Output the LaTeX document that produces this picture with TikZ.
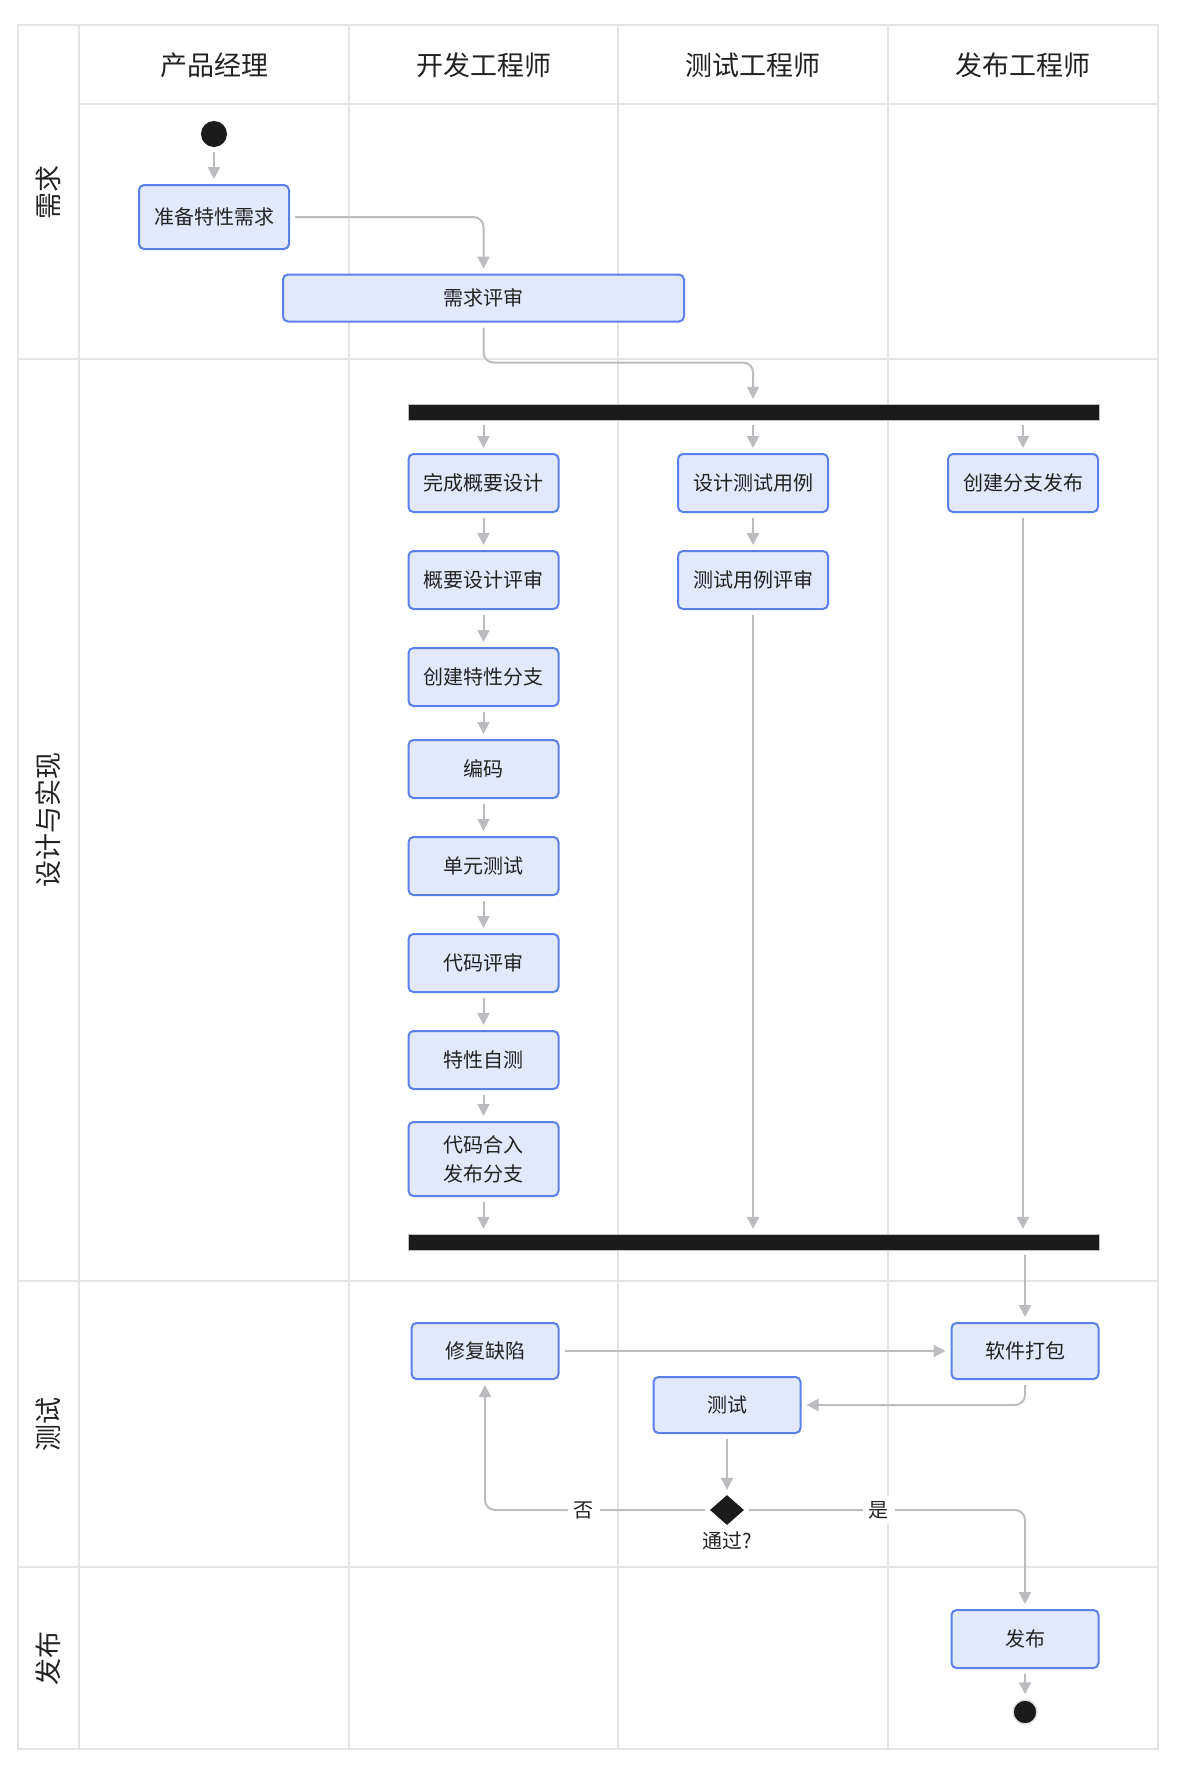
\documentclass[tikz,border=0pt]{standalone}
\usepackage{fontspec}
\setmainfont{Noto Sans CJK SC}
\usetikzlibrary{arrows.meta, positioning, shapes.geometric, calc}
\definecolor{boxfill}{HTML}{E3E9FC}
\definecolor{boxline}{HTML}{5A80EA}
\definecolor{flowgray}{HTML}{BBBCC0}
\definecolor{gridgray}{HTML}{E4E4E4}
\definecolor{barblack}{HTML}{1B1B1B}
\definecolor{inkgray}{HTML}{222222}

\begin{document}
\begin{tikzpicture}[x=1pt, y=-1pt, font=\fontsize{20}{29}\selectfont, text=inkgray,
    >={Triangle[length=12pt, width=12pt]},
    act/.style={draw=boxline, fill=boxfill, line width=2pt, rounded corners=5pt, minimum width=150pt, minimum height=58pt, align=center},
    flow/.style={draw=flowgray, line width=2pt, ->, rounded corners=10pt, shorten <=5pt, shorten >=5pt},
    laneline/.style={draw=gridgray, line width=1.5pt},
    lanehead/.style={font=\fontsize{27}{32}\selectfont},
    rowhead/.style={rotate=90, font=\fontsize{27}{32}\selectfont},
    bar/.style={fill=barblack, draw=gray!50, minimum width=691pt, minimum height=16pt, inner sep=0pt},
    dot/.style={circle, fill=barblack, minimum size=26pt, inner sep=0pt},
    guard/.style={fill=white, inner sep=6pt}]
    \useasboundingbox (0,0) rectangle (1186,1770);

    % swimlanes
    \draw[laneline] (18,25) rectangle (1158,1749);
    \foreach \x in {79,349,618,888}
        \draw[laneline] (\x,25) -- (\x,1749);
    \draw[laneline] (79,104) -- (1158,104);
    \foreach \y in {359,1281,1567}
        \draw[laneline] (18,\y) -- (1158,\y);
    \node[lanehead] (pm) at (214,65) {产品经理};
    \node[lanehead] (dev) at (483.5,65) {开发工程师};
    \node[lanehead] (qa) at (753,65) {测试工程师};
    \node[lanehead] (rm) at (1023,65) {发布工程师};
    \node[rowhead] (req) at (48.5,192) {需求};
    \node[rowhead] (impl) at (48.5,820) {设计与实现};
    \node[rowhead] (tst) at (48.5,1424) {测试};
    \node[rowhead] (pub) at (48.5,1658) {发布};

    % activities
    \node[dot] (start) at (214,134) {};
    \node[act, minimum height=64pt] (prep) at (214,217) {准备特性需求};
    \node[act, minimum width=401pt, minimum height=47pt] (reqrev) at (483.5,298) {需求评审};
    \node[bar] (fork) at (753.5,412) {};
    \node[act] (hld) at (483.5,483) {完成概要设计};
    \node[act] (tcd) at (753,483) {设计测试用例};
    \node[act] (relb) at (1023,483) {创建分支发布};
    \node[act] (hldrev) at (483.5,580) {概要设计评审};
    \node[act] (tcrev) at (753,580) {测试用例评审};
    \node[act] (featb) at (483.5,677) {创建特性分支};
    \node[act] (code) at (483.5,769) {编码};
    \node[act] (unit) at (483.5,866) {单元测试};
    \node[act] (crev) at (483.5,963) {代码评审};
    \node[act] (self) at (483.5,1060) {特性自测};
    \node[act, minimum height=74pt] (merge) at (483.5,1159) {代码合入\\发布分支};
    \node[bar] (join) at (753.5,1242) {};
    \node[act, minimum width=147pt, minimum height=56pt] (fix) at (485,1351) {修复缺陷};
    \node[act, minimum width=147pt, minimum height=56pt] (pack) at (1025,1351) {软件打包};
    \node[act, minimum width=147pt, minimum height=56pt] (test) at (727,1405) {测试};
    \node[diamond, fill=barblack, minimum width=34pt, minimum height=30pt, inner sep=0pt] (pass) at (727,1510) {};
    \node[below=3pt of pass] (passlbl) {通过?};
    \node[act, minimum width=147pt, minimum height=58pt] (rel) at (1025,1639) {发布};
    \node[dot, minimum size=24pt, draw=gray!25, line width=1.5pt] (end) at (1025,1712) {};

    % flows
    \draw[flow] (start) -- (prep);
    \draw[flow] (prep.east) -| (reqrev.north);
    \draw[flow] (reqrev.south) -- ++(0,40) -| (tcd |- fork.north);
    \foreach \t in {hld,tcd,relb}
        \draw[flow] (fork.south -| \t) -- (\t);
    \foreach \a/\b in {hld/hldrev, hldrev/featb, featb/code, code/unit, unit/crev, crev/self, self/merge, tcd/tcrev}
        \draw[flow] (\a) -- (\b);
    \foreach \t in {merge,tcrev,relb}
        \draw[flow] (\t) -- (\t |- join.north);
    \draw[flow] (join.south -| pack) -- (pack);
    \draw[flow] (fix) -- (pack);
    \draw[flow] (pack.south) |- (test.east);
    \draw[flow] (test) -- (pass);
    \draw[flow] (pass.west) -| node[pos=0.28, guard] {否} (fix.south);
    \draw[flow] (pass.east) -| node[pos=0.24, guard] {是} (rel.north);
    \draw[flow] (rel) -- (end);
\end{tikzpicture}
\end{document}
